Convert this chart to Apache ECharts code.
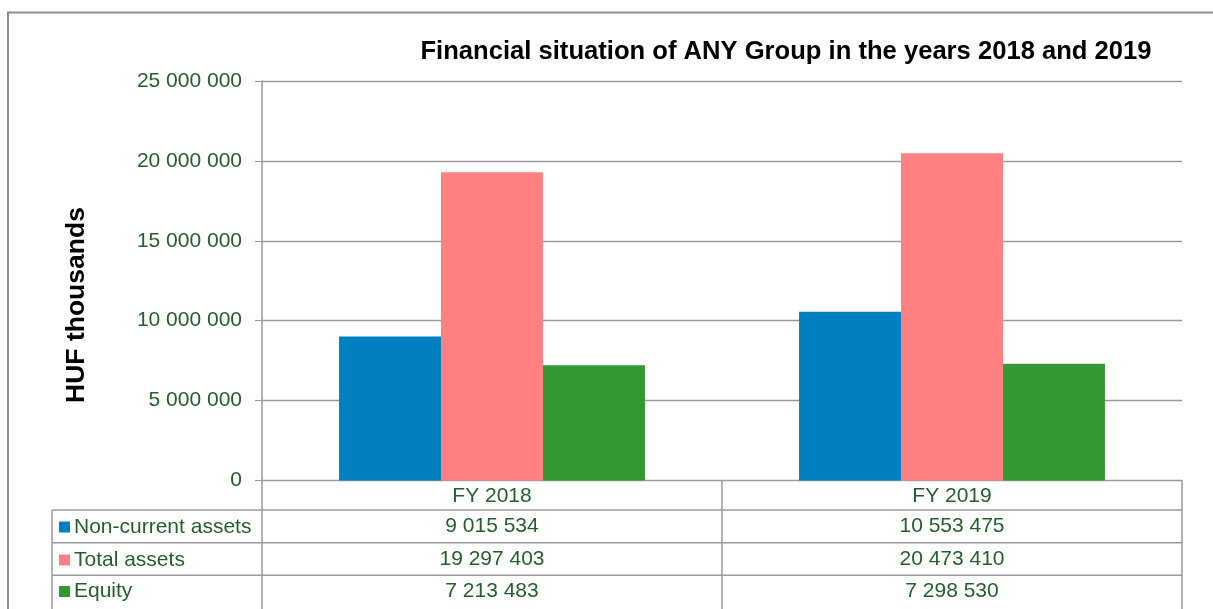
<!DOCTYPE html>
<html>
<head>
<meta charset="utf-8">
<script src="https://cdn.jsdelivr.net/npm/echarts@6/dist/echarts.min.js"></script>
<style>
html,body{margin:0;padding:0;background:#fff;}
#chart{width:1213px;height:609px;}
</style>
</head>
<body>
<div id="chart"></div>
<script>
// ---- data ----
const categories = ['FY 2018', 'FY 2019'];
const seriesNames = ['Non-current assets', 'Total assets', 'Equity'];
const nonCurrentAssets = [9015534, 10553475];
const totalAssets = [19297403, 20473410];
const equity = [7213483, 7298530];
const yMin = 0, yMax = 25000000, yStep = 5000000;
const titleText = 'Financial situation of ANY Group in the years 2018 and 2019';
const yAxisTitle = 'HUF thousands';

// ---- styling ----
const colors = ['#0080C0', '#FF8080', '#339933'];
const txt = '#255E2C';
const lineGray = '#9a9a9a';
const FONT = '"Liberation Sans", Arial, sans-serif';

function fmt(n) {
  return String(n).replace(/\B(?=(\d{3})+(?!\d))/g, ' ');
}

const valueRows = [nonCurrentAssets, totalAssets, equity];
const rowOffsets = [30.5, 63, 95];
const legendTops = [516.5, 549.5, 581];

const xAxes = [{
  type: 'category',
  data: categories,
  gridIndex: 0,
  position: 'bottom',
  axisLine: {show: true, lineStyle: {color: lineGray, width: 1}},
  axisTick: {show: true, length: 130, lineStyle: {color: lineGray, width: 1.5}},
  axisLabel: {color: txt, fontSize: 21, fontFamily: FONT, margin: 5}
}];
valueRows.forEach((row, i) => {
  xAxes.push({
    type: 'category',
    data: row.map(fmt),
    gridIndex: 0,
    position: 'bottom',
    offset: rowOffsets[i],
    axisLine: {show: false},
    axisTick: {show: false},
    axisLabel: {color: txt, fontSize: 21, fontFamily: FONT, margin: 5}
  });
});

const series = [nonCurrentAssets, totalAssets, equity].map((d, i) => ({
  name: seriesNames[i],
  type: 'bar',
  xAxisIndex: 0,
  data: d,
  barGap: '0%',
  barCategoryGap: '33.5%',
  itemStyle: {color: colors[i]},
  emphasis: {disabled: true}
}));

const legends = seriesNames.map((name, i) => ({
  data: [name],
  orient: 'vertical',
  left: 59, top: legendTops[i],
  padding: 0,
  icon: 'rect',
  itemWidth: 11, itemHeight: 11,
  selectedMode: false,
  textStyle: {color: txt, fontSize: 21, fontFamily: FONT, lineHeight: 21, padding: [0, 0, 0, -1]}
}));

const tableLineYs = [510, 542.7, 575.3];

const graphics = [
  {type: 'rect', shape: {x: 8, y: 12.5, width: 1400, height: 800}, style: {fill: 'none', stroke: '#8c8c8c', lineWidth: 2}, silent: true},
  {type: 'text', x: 77, y: 305, rotation: Math.PI / 2,
   style: {text: yAxisTitle, font: 'bold 26.5px ' + FONT, fill: '#000', textAlign: 'center', textVerticalAlign: 'middle'}},
  {type: 'line', shape: {x1: 52, y1: 510, x2: 52, y2: 612}, style: {stroke: lineGray, lineWidth: 1.5}}
];
tableLineYs.forEach(y => graphics.push({type: 'line', shape: {x1: 52, y1: y, x2: 1182, y2: y}, style: {stroke: lineGray, lineWidth: 1.5}}));

const chart = echarts.init(document.getElementById('chart'), null, {renderer: 'canvas'});
chart.setOption({
  animation: false,
  backgroundColor: '#fff',
  color: colors,
  title: {
    text: titleText,
    left: 781, top: 34, textAlign: 'center',
    textStyle: {color: '#000', fontSize: 25.6, fontWeight: 'bold', fontFamily: FONT}
  },
  legend: legends,
  grid: {left: 262, right: 31, top: 81, bottom: 128.5, containLabel: false},
  xAxis: xAxes,
  yAxis: {
    type: 'value',
    min: yMin, max: yMax, interval: yStep,
    axisLine: {show: true, lineStyle: {color: lineGray, width: 1.5}},
    axisTick: {show: true, length: 7, lineStyle: {color: lineGray}},
    splitLine: {show: true, lineStyle: {color: lineGray, width: 1.3}},
    axisLabel: {color: txt, fontSize: 21, fontFamily: FONT, margin: 20, formatter: v => fmt(v)}
  },
  series: series,
  graphic: graphics
});
</script>
</body>
</html>
